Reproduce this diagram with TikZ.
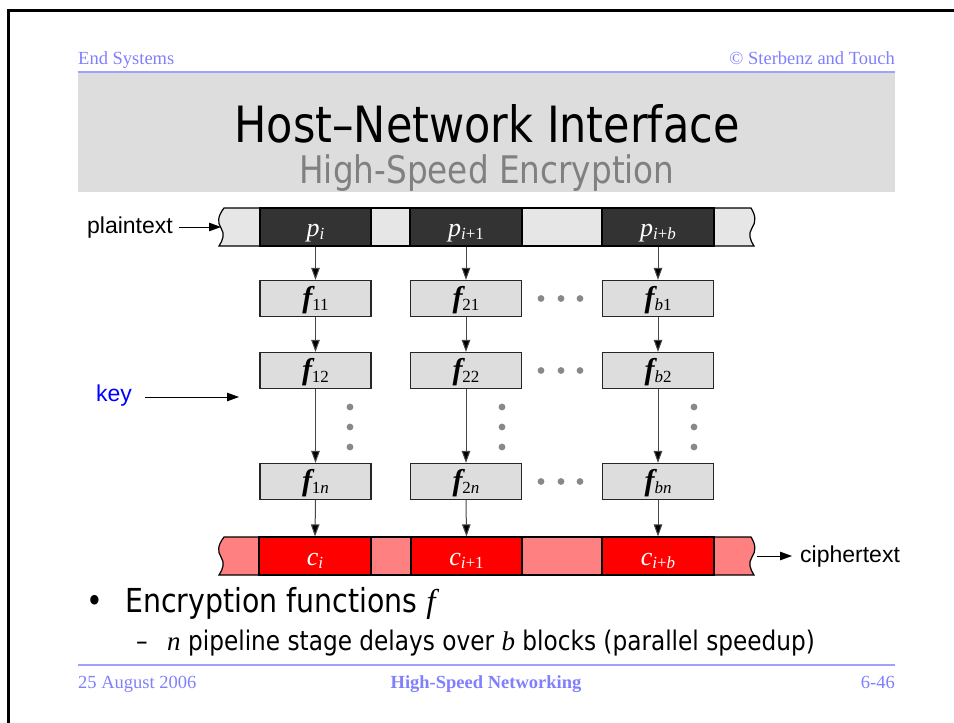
\documentclass[tikz,border=0pt]{standalone}
\usepackage{fontspec}
\setmainfont{Liberation Serif}
\newfontfamily\slidefont{DejaVu Sans}[FakeStretch=0.86]
\newfontfamily\diagfont{Liberation Sans}
\usetikzlibrary{arrows.meta}

\definecolor{hdrblue}{HTML}{8080FF}
\definecolor{rulblue}{HTML}{A0A0FF}
\definecolor{bandgray}{HTML}{DDDDDD}
\definecolor{subgray}{HTML}{808080}
\definecolor{darkseg}{HTML}{333333}
\definecolor{lightseg}{HTML}{E6E6E6}
\definecolor{redseg}{HTML}{FF0000}
\definecolor{pinkseg}{HTML}{FF8080}
\definecolor{boxgray}{HTML}{DDDDDD}
\definecolor{dotgray}{HTML}{888888}
\definecolor{keyblue}{HTML}{0000FF}

% block labels: letter with a lowered subscript, baseline set below the centre
\newcommand\lowsub[1]{\raisebox{-0.3em}{\fontsize{17}{17}\selectfont #1}}
\newcommand\blk[2]{\raisebox{-9.5pt}[0pt][0pt]{{\fontsize{26}{26}\selectfont\itshape #1}\lowsub{#2}}}
\newcommand\fun[1]{\raisebox{-9pt}[0pt][0pt]{{\fontsize{30}{30}\selectfont\bfseries\itshape f}\lowsub{#1}}}

\tikzset{
  seg/.style={draw=black, line width=1.2pt, minimum height=38pt, inner sep=0pt},
  plainseg/.style={seg, fill=lightseg},
  blockseg/.style={seg, fill=darkseg, text=white},
  pinkpart/.style={seg, fill=pinkseg},
  redpart/.style={seg, fill=redseg, text=white},
  fbox/.style={draw=black!85, line width=1.2pt, fill=boxgray, minimum width=111pt,
    minimum height=36pt, inner sep=0pt},
  conn/.style={draw=black!72, line width=1pt, -{Triangle[length=12pt,width=8.5pt,fill=black]}},
  gdot/.style={fill=dotgray},
  sidelabel/.style={font=\diagfont\fontsize{23}{23}\selectfont, inner sep=0pt}
}

\begin{document}
\begin{tikzpicture}[x=1pt,y=-1pt]
\useasboundingbox (0,0) rectangle (954,723);
\fill[white] (0,0) rectangle (954,723);

% page frame
\draw[line width=3pt] (8,723) -- (8,10) -- (954,10);

% header
\node[anchor=base west, inner sep=0pt, text=hdrblue, font=\fontsize{18.5}{18.5}\selectfont] (hdrL) at (78,64) {End Systems};
\node[anchor=base east, inner sep=0pt, text=hdrblue, font=\fontsize{18.5}{18.5}\selectfont] (hdrR) at (895,64) {\textcopyright\ Sterbenz and Touch};
\draw[rulblue, line width=1.5pt] (78,72) -- (895,72);

% title band
\fill[bandgray] (78,73) rectangle (895,192);
\node[anchor=base, inner sep=0pt, font=\slidefont\fontsize{50}{50}\selectfont] (title) at (487,142) {Host–Network Interface};
\node[anchor=base, inner sep=0pt, text=subgray, font=\slidefont\fontsize{38}{38}\selectfont] (subtitle) at (487,183) {High-Speed Encryption};

% plaintext stream
\filldraw[fill=lightseg, draw=black, line width=1.2pt]
  (260,208) -- (224,208) .. controls (218,216) and (217,222) .. (221,228)
  .. controls (225,234) and (223,240) .. (219,246) -- (260,246);
\filldraw[fill=lightseg, draw=black, line width=1.2pt]
  (714,208) -- (751,208) .. controls (756,216) and (756,222) .. (752,228)
  .. controls (748,234) and (750,240) .. (754,246) -- (714,246);
\node[plainseg, minimum width=39pt] (g1) at (390.5,227) {};
\node[plainseg, minimum width=80pt] (g2) at (562,227) {};
\node[blockseg, minimum width=111pt] (p1) at (315.5,227) {\blk{p}{\itshape i}};
\node[blockseg, minimum width=112pt] (p2) at (466,227) {\blk{p}{\itshape i\upshape+1}};
\node[blockseg, minimum width=112pt] (p3) at (658,227) {\blk{p}{\itshape i\upshape+\itshape b}};
\coordinate (plainin) at (221,227);
\node[sidelabel, anchor=east] (plaintext) at (173,228) {plaintext};
\draw[conn, draw=black, shorten <=6pt] (plaintext.east |- plainin) -- (plainin);

% pipeline stages
\node[fbox] (f11) at (315.5,298.5) {\fun{11}};
\node[fbox] (f21) at (466,298.5) {\fun{21}};
\node[fbox] (fb1) at (658,298.5) {\fun{\itshape b\upshape 1}};
\node[fbox] (f12) at (315.5,370.5) {\fun{12}};
\node[fbox] (f22) at (466,370.5) {\fun{22}};
\node[fbox] (fb2) at (658,370.5) {\fun{\itshape b\upshape 2}};
\node[fbox] (f1n) at (315.5,481.5) {\fun{1\itshape n}};
\node[fbox] (f2n) at (466,481.5) {\fun{2\itshape n}};
\node[fbox] (fbn) at (658,481.5) {\fun{\itshape bn}};

% ciphertext stream
\filldraw[fill=pinkseg, draw=black, line width=1.2pt]
  (259,537) -- (224,537) .. controls (218,545) and (217,551) .. (221,557)
  .. controls (225,563) and (223,569) .. (219,575) -- (259,575);
\filldraw[fill=pinkseg, draw=black, line width=1.2pt]
  (714,537) -- (751,537) .. controls (756,545) and (756,551) .. (752,557)
  .. controls (748,563) and (750,569) .. (754,575) -- (714,575);
\node[pinkpart, minimum width=40pt] (q1) at (391,556) {};
\node[pinkpart, minimum width=80pt] (q2) at (562,556) {};
\node[redpart, minimum width=112pt] (c1) at (315,556) {\blk{c}{\itshape i}};
\node[redpart, minimum width=111pt] (c2) at (466.5,556) {\blk{c}{\itshape i\upshape+1}};
\node[redpart, minimum width=112pt] (c3) at (658,556) {\blk{c}{\itshape i\upshape+\itshape b}};
\coordinate (cipherout) at (757,556);
\node[sidelabel, anchor=west] (ciphertext) at (800,557) {ciphertext};
\draw[conn, draw=black, shorten >=8pt] (cipherout) -- (ciphertext.west |- cipherout);

% data flow through the stages
\foreach \top/\a/\b/\c/\d in {p1/f11/f12/f1n/c1, p2/f21/f22/f2n/c2, p3/fb1/fb2/fbn/c3}{
  \draw[conn] (\top.south) -- (\a.north);
  \draw[conn] (\a.south) -- (\b.north);
  \draw[conn] (\b.south) -- (\c.north);
  \draw[conn] (\c.south) -- (\d.north);
}

% key input
\node[sidelabel, anchor=west, text=keyblue] (key) at (96,396) {key};
\coordinate (keyend) at (239,397);
\draw[conn, draw=black, shorten <=13pt] (key.east |- keyend) -- (keyend);

% ellipsis dots
\foreach \y in {298.5,370.5,481.5}{
  \foreach \x in {541,561,580}{ \fill[gdot] (\x,\y) circle (3.4); }
}
\foreach \x in {350,502,694}{
  \foreach \y in {407,427,447}{ \fill[gdot] (\x,\y) circle (3.4); }
}

% bullet text
\node[anchor=base, inner sep=0pt, font=\slidefont\fontsize{33}{33}\selectfont] (bul) at (95,612) {•};
\node[anchor=base west, inner sep=0pt, font=\slidefont\fontsize{33}{33}\selectfont] (item) at (125,612)
  {Encryption functions {\rmfamily\itshape f}};
\node[anchor=base west, inner sep=0pt, font=\slidefont\fontsize{27}{27}\selectfont] (dash) at (136,650) {–};
\node[anchor=base west, inner sep=0pt, font=\slidefont\fontsize{27}{27}\selectfont] (subitem) at (167,650)
  {{\rmfamily\itshape n} pipeline stage delays over {\rmfamily\itshape b} blocks (parallel speedup)};

% footer
\draw[rulblue, line width=1.2pt] (78,665) -- (895,665);
\node[anchor=base west, inner sep=0pt, text=hdrblue, font=\fontsize{18.5}{18.5}\selectfont] (date) at (78,688) {25 August 2006};
\node[anchor=base, inner sep=0pt, text=hdrblue, font=\bfseries\fontsize{18.5}{18.5}\selectfont] (course) at (486,688) {High-Speed Networking};
\node[anchor=base east, inner sep=0pt, text=hdrblue, font=\fontsize{18.5}{18.5}\selectfont] (page) at (895,688) {6-46};
\end{tikzpicture}
\end{document}
